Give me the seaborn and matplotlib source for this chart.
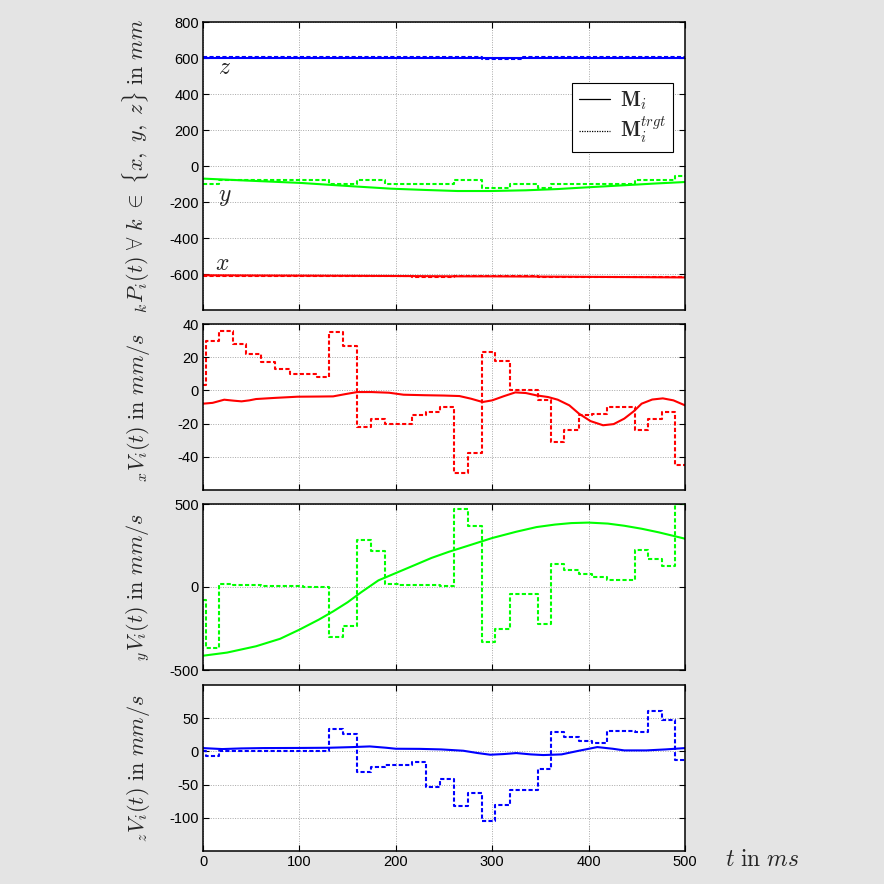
import numpy as np
import pandas as pd
import matplotlib
matplotlib.use("Agg")
import matplotlib.pyplot as plt
import seaborn as sns
from matplotlib.lines import Line2D

# ---------------- data ----------------
edges = [0, 3, 17, 31, 45, 60, 75, 90, 104, 118, 131, 145, 160, 174, 189, 203, 217, 231,
         246, 260, 275, 289, 303, 318, 332, 347, 361, 375, 390, 404, 419, 433, 448, 462,
         476, 490, 500]

# target (step) values, one per segment
vx_trgt = [3, 30, 36, 28, 22, 17, 13, 10, 10, 8, 35, 27, -22, -17, -20, -20, -15, -13,
           -10, -50, -38, 23, 18, 0, 0, -6, -31, -24, -15, -14, -10, -10, -24, -17, -13, -45]
vy_trgt = [-80, -367, 20, 14, 10, 8, 6, 5, 3, 2, -303, -237, 281, 219, 16, 14, 12, 10,
           8, 472, 365, -329, -253, -42, -42, -223, 137, 104, 80, 60, 44, 44, 221, 169, 125, 497]
vz_trgt = [0, -7, 0, 0, 0, 0, 0, 0, 0, 0, 34, 26, -31, -23, -21, -21, -16, -53,
           -41, -82, -62, -105, -81, -58, -58, -26, 29, 21, 16, 13, 30, 30, 29, 61, 47, -13]
px_trgt = [-610, -612, -612, -611, -612, -612, -612, -613, -612, -612, -612, -612, -613, -613,
           -612, -612, -614, -614, -614, -613, -613, -612, -612, -613, -613, -614, -615, -615,
           -615, -616, -616, -616, -617, -617, -617, -618]
py_trgt = [-98, -98, -80, -80, -80, -80, -80, -80, -80, -80, -98, -98, -80, -80, -98, -98,
           -98, -98, -98, -80, -80, -120, -120, -98, -98, -120, -100, -100, -100, -100, -100,
           -100, -80, -80, -80, -57]
pz_trgt = [604] * 21 + [595, 595, 597] + [604] * 12

# measured (smooth) curves
t_vx = [0, 10, 22, 32, 40, 48, 55, 75, 98, 120, 135, 148, 160, 175, 193, 208, 230, 250,
        266, 278, 290, 300, 312, 324, 335, 346, 358, 368, 380, 390, 402, 415, 426, 437,
        447, 455, 466, 477, 488, 500]
vx_meas = [-8, -7.5, -5.6, -6.2, -6.6, -6, -5.2, -4.5, -3.8, -3.7, -3.6, -2.2, -1, -1,
           -1.4, -2.6, -2.9, -3.1, -3.4, -5, -7, -6, -3.5, -1.2, -1.6, -3, -4, -5.6, -9,
           -14, -18.5, -21, -20.3, -17, -12.5, -8, -5.5, -4.8, -6, -9]
t_vy = [0, 25, 55, 80, 100, 120, 135, 150, 164, 182, 200, 220, 237, 255, 273, 300, 325,
        346, 365, 382, 400, 420, 437, 455, 473, 500]
vy_meas = [-414, -395, -357, -312, -257, -197, -147, -92, -32, 40, 84, 133, 175, 212,
           245, 295, 333, 361, 376, 385, 388, 382, 369, 351, 329, 291]
t_vz = [0, 20, 40, 62, 100, 131, 155, 173, 190, 200, 225, 247, 270, 285, 298, 312, 325,
        340, 353, 372, 390, 409, 425, 437, 460, 480, 500]
vz_meas = [5, 3.5, 4.5, 5, 5.2, 5.5, 6.5, 7.5, 5.5, 4, 3.8, 3, 1, -2.5, -5, -4, -2.5,
           -4.5, -5.5, -4.5, 1, 6.5, 4, 1.5, 1.5, 3, 5]
t_p = [0, 50, 101, 150, 195, 230, 264, 298, 335, 368, 400, 437, 470, 500]
px_meas = [-607, -608, -609, -610, -611, -612, -613, -613, -614, -615, -616, -617, -618, -619]
py_meas = [-70, -82, -94, -111, -126, -133, -139, -139, -135, -128, -118, -107, -97, -89]
pz_meas = [601] * 14


def step_frame(values):
    return pd.DataFrame({"t": edges, "v": list(values) + [values[-1]]})


def meas_frame(t, v):
    return pd.DataFrame({"t": t, "v": v})


# ---------------- style ----------------
sns.set_theme(style="white")
plt.rcParams["font.family"] = ["Liberation Sans", "DejaVu Sans"]
plt.rcParams["mathtext.fontset"] = "cm"

BG = "#e4e4e4"
RED, GREEN, BLUE = "#ff0000", "#00ff00", "#0000ff"
DASH = (2.0, 1.1)
LW = 1.5

fig = plt.figure(figsize=(8.84, 8.84), dpi=100, facecolor=BG)
W = 884.0
left, width = 203 / W, 482 / W
boxes = [(22, 310), (324, 490), (504, 670), (685, 851)]
axes = []
for top, bot in boxes:
    ax = fig.add_axes([left, 1 - bot / W, width, (bot - top) / W])
    axes.append(ax)


def style_axis(ax, ylim, yticks, show_x):
    ax.set_facecolor("white")
    ax.set_xlim(0, 500)
    ax.set_ylim(*ylim)
    ax.set_xticks([0, 100, 200, 300, 400, 500])
    ax.set_yticks(yticks)
    ax.set_yticklabels([str(v) for v in yticks])
    if not show_x:
        ax.set_xticklabels([])
    ax.grid(True, linestyle=(0, (1, 1.5)), color="#a8a8a8", linewidth=0.7)
    ax.tick_params(direction="in", length=4, width=0.8, top=True, right=True,
                   bottom=True, left=True, labelsize=10.5, colors="black", pad=3)
    for s in ax.spines.values():
        s.set_color("black")
        s.set_linewidth(1.1)
        s.set_visible(True)
    ax.set_xlabel("")
    ax.set_ylabel("")


# panel 1: positions
ax = axes[0]
for meas, trgt, col in [(pz_meas, pz_trgt, BLUE), (py_meas, py_trgt, GREEN), (px_meas, px_trgt, RED)]:
    sns.lineplot(data=step_frame(trgt), x="t", y="v", ax=ax, color=col, lw=LW,
                 drawstyle="steps-post", linestyle=(0, DASH))
    sns.lineplot(data=meas_frame(t_p, meas), x="t", y="v", ax=ax, color=col, lw=LW)
style_axis(ax, (-800, 800), [-600, -400, -200, 0, 200, 400, 600, 800], False)
ax.text(16, 545, r"$z$", fontsize=17, ha="left", va="center")
ax.text(16, -170, r"$y$", fontsize=17, ha="left", va="center")
ax.text(12, -545, r"$x$", fontsize=17, ha="left", va="center")
handles = [Line2D([], [], color="black", lw=0.9),
           Line2D([], [], color="black", lw=0.9, linestyle=(0, (1, 1)))]
leg = ax.legend(handles, [r"$\mathbf{M}_i$", r"$\mathbf{M}_i^{trgt}$"],
                loc="upper right", bbox_to_anchor=(0.975, 0.788), borderaxespad=0,
                fontsize=15, frameon=True, fancybox=False, framealpha=1, edgecolor="black",
                handlelength=1.5, handletextpad=0.5, borderpad=0.3, labelspacing=0.2)
leg.get_frame().set_linewidth(0.8)
ax.set_ylabel(r"${}_{k}P_i(t)\ \forall\ k\ \in\ \{x,\ y,\ z\}\ \mathrm{in}\ mm$", fontsize=16)

# panel 2: vx
ax = axes[1]
sns.lineplot(data=step_frame(vx_trgt), x="t", y="v", ax=ax, color=RED, lw=LW,
             drawstyle="steps-post", linestyle=(0, DASH))
sns.lineplot(data=meas_frame(t_vx, vx_meas), x="t", y="v", ax=ax, color=RED, lw=LW)
style_axis(ax, (-60, 40), [-40, -20, 0, 20, 40], False)
ax.set_ylabel(r"${}_{x}V_i(t)\ \mathrm{in}\ mm/s$", fontsize=16)

# panel 3: vy
ax = axes[2]
sns.lineplot(data=step_frame(vy_trgt), x="t", y="v", ax=ax, color=GREEN, lw=LW,
             drawstyle="steps-post", linestyle=(0, DASH))
sns.lineplot(data=meas_frame(t_vy, vy_meas), x="t", y="v", ax=ax, color=GREEN, lw=LW)
style_axis(ax, (-500, 500), [-500, 0, 500], False)
ax.set_ylabel(r"${}_{y}V_i(t)\ \mathrm{in}\ mm/s$", fontsize=16)

# panel 4: vz
ax = axes[3]
sns.lineplot(data=step_frame(vz_trgt), x="t", y="v", ax=ax, color=BLUE, lw=LW,
             drawstyle="steps-post", linestyle=(0, DASH))
sns.lineplot(data=meas_frame(t_vz, vz_meas), x="t", y="v", ax=ax, color=BLUE, lw=LW)
style_axis(ax, (-150, 100), [-100, -50, 0, 50], True)
ax.set_ylabel(r"${}_{z}V_i(t)\ \mathrm{in}\ mm/s$", fontsize=16)

for ax in axes:
    ax.yaxis.set_label_coords(-0.105, 0.5)

fig.text(725 / W, 1 - 860 / W, r"$t\ \mathrm{in}\ ms$", fontsize=17, ha="left", va="center")

fig.savefig("out.png", dpi=100, facecolor=BG)
